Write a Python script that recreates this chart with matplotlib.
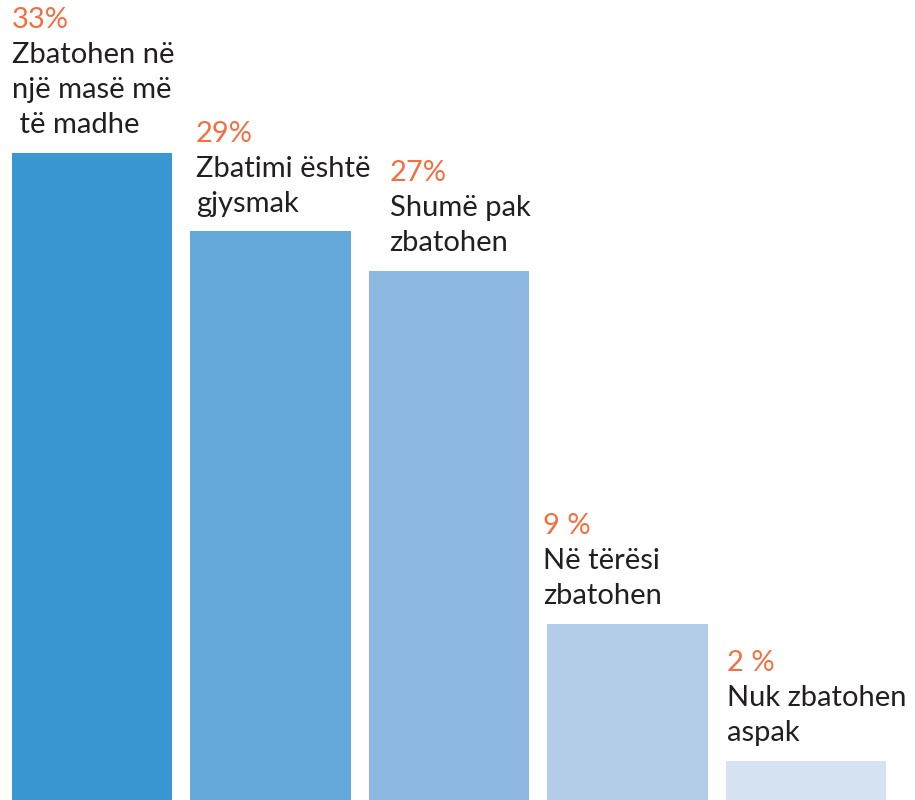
import matplotlib
matplotlib.use("Agg")
import matplotlib.pyplot as plt

# data
categories = ["Zbatohen në\nnjë masë më\n të madhe",
              "Zbatimi është\ngjysmak",
              "Shumë pak\nzbatohen",
              "Në tërësi\nzbatohen",
              "Nuk zbatohen\naspak"]
values = [33, 29, 27, 9, 2]
pct_labels = ["33%", "29%", "27%", "9 %", "2 %"]

colors = ["#3a97d3", "#65a8da", "#8cb8e2", "#b3cde9", "#d5e3f3"]
orange = "#f36f3f"
dark = "#231f20"

plt.rcParams['font.family'] = ['Lato', 'DejaVu Sans']

fig = plt.figure(figsize=(9.15, 8), dpi=100)
ax = fig.add_axes([0, 0, 1, 1])
x = range(len(values))
w = 0.9
ax.bar(x, values, width=w, color=colors, align='center')
ax.set_xlim(-0.515, 4.61)
ax.set_ylim(0, 40.8)
ax.axis('off')

# little nudges of the text against the bar edge, in points
dx = [0, 4, 15, -3, 1]
line_h = 25.2   # points between baselines
gap = 14        # points from bar top to last baseline
fs = 21

for i, (v, cat, pct) in enumerate(zip(values, categories, pct_labels)):
    lines = [pct] + cat.split("\n")
    n = len(lines)
    for j, txt in enumerate(lines):
        off = gap + (n - 1 - j) * line_h
        ax.annotate(txt, xy=(i - w / 2, v), xytext=(dx[i], off),
                    textcoords='offset points', ha='left', va='baseline',
                    fontsize=fs, color=orange if j == 0 else dark,
                    annotation_clip=False)

fig.savefig("out.png", dpi=100)
